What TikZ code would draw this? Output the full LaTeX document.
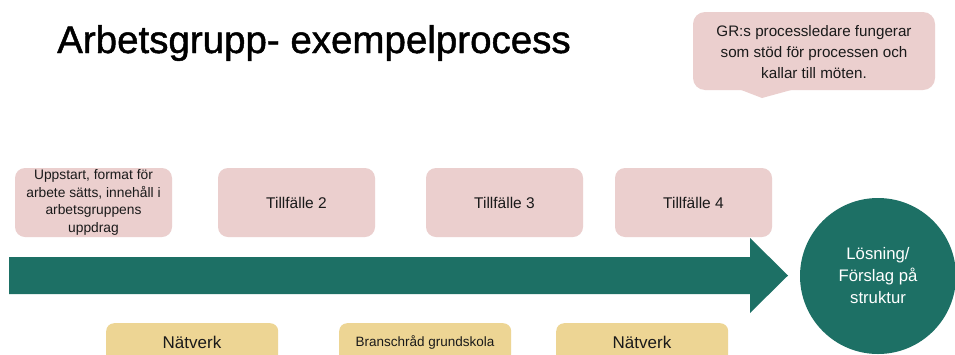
\documentclass[tikz,border=0pt]{standalone}
\usepackage{fontspec}
\setmainfont{Liberation Sans}
\newfontfamily\titlefont{Liberation Sans}[FakeBold=1.2]
\definecolor{pinkbox}{HTML}{EBCFCE}
\definecolor{teal}{HTML}{1D7065}
\definecolor{yellowbox}{HTML}{EDD594}
\definecolor{txt}{HTML}{1A1A1A}
\tikzset{
  pinkstep/.style={fill=pinkbox, rounded corners=10pt, minimum width=157pt, minimum height=69pt, inner sep=0pt, align=center, text=txt},
  yellowstep/.style={fill=yellowbox, rounded corners=8pt, minimum width=172pt, minimum height=44pt, inner sep=0pt, text=txt},
}
\begin{document}
\begin{tikzpicture}[x=1pt,y=-1pt]
\useasboundingbox (0,0) rectangle (955,354);
\clip (0,0) rectangle (955,354);
\fill[white] (0,0) rectangle (955,354);

% title
\node[anchor=base west, inner sep=0pt, text=black] (title) at (57,53)
  {\titlefont\fontsize{38.5}{40}\selectfont Arbetsgrupp- exempelprocess};

% callout
\fill[pinkbox, rounded corners=12pt] (693,12) rectangle (935,90);
\fill[pinkbox] (740,89.5) -- (793,89.5) -- (762,98) -- cycle;
\node[align=center, inner sep=0pt, text=txt, font=\fontsize{15.2}{21}\selectfont] (callout) at (814,52)
  {GR:s processledare fungerar\\som stöd för processen och\\kallar till möten.};

% pink steps
\node[pinkstep, font=\fontsize{13.8}{17.4}\selectfont] (s1) at (93.5,202.5)
  {Uppstart, format för\\arbete sätts, innehåll i\\arbetsgruppens\\uppdrag};
\node[pinkstep, font=\fontsize{15.5}{18}\selectfont] (s2) at (296.5,202.5) {Tillfälle 2};
\node[pinkstep, font=\fontsize{15.5}{18}\selectfont] (s3) at (504.5,202.5) {Tillfälle 3};
\node[pinkstep, font=\fontsize{15.5}{18}\selectfont] (s4) at (693.5,202.5) {Tillfälle 4};

% arrow
\fill[teal] (9,257) -- (750,257) -- (750,238) -- (788,275.5) -- (750,313) -- (750,294) -- (9,294) -- cycle;

% circle
\node[circle, fill=teal, minimum size=156pt, inner sep=0pt, align=center, text=white,
  font=\fontsize{16.7}{22}\selectfont] (goal) at (878,276) {Lösning/\\Förslag på\\struktur};

% yellow boxes
\node[yellowstep, anchor=north west] (n1) at (106,323) {};
\node[text=txt, font=\fontsize{17}{20}\selectfont] (n1t) at (192,342) {Nätverk};
\node[yellowstep, anchor=north west] (n2) at (339,323) {};
\node[text=txt, font=\fontsize{13.5}{16}\selectfont] (n2t) at (425,342) {Branschråd grundskola};
\node[yellowstep, anchor=north west] (n3) at (556,323) {};
\node[text=txt, font=\fontsize{17}{20}\selectfont] (n3t) at (642,342) {Nätverk};
\end{tikzpicture}
\end{document}
